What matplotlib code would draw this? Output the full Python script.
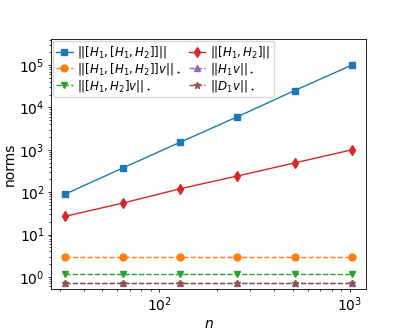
import numpy as np
import matplotlib
matplotlib.use('Agg')
import matplotlib.pyplot as plt

n = [32, 64, 128, 256, 512, 1024]
comm_comm = [90, 370, 1500, 6000, 25000, 100000]
comm = [27, 55, 120, 240, 490, 1000]
comm_comm_v = [3.0, 3.0, 3.0, 3.0, 3.0, 3.0]
comm_v = [1.15, 1.15, 1.15, 1.15, 1.15, 1.15]
h1_v = [0.7, 0.7, 0.7, 0.7, 0.7, 0.7]
d1_v = [0.7, 0.7, 0.7, 0.7, 0.7, 0.7]

fig = plt.figure(figsize=(4.07, 3.31), dpi=100)
ax = fig.add_axes([0.125, 0.127, 0.775, 0.755])

kw = dict(lw=1.0, ms=5)
ax.loglog(n, comm_comm, 's-', color='C0', label=r'$||[H_1,[H_1,H_2]]||$', **kw)
ax.loglog(n, comm_comm_v, 'o--', color='C1', label=r'$||[H_1,[H_1,H_2]]v||_\star$', **kw)
ax.loglog(n, comm_v, 'v--', color='C2', label=r'$||[H_1,H_2]v||_\star$', **kw)
ax.loglog(n, comm, 'd-', color='C3', label=r'$||[H_1,H_2]||$', **kw)
ax.loglog(n, h1_v, '^--', color='C4', label=r'$||H_1v||_\star$', **kw)
ax.loglog(n, d1_v, '*--', color='C5', label=r'$||D_1v||_\star$', **kw)

ax.set_ylim(0.52, 4.1e5)
ax.set_xlabel('$n$', fontsize=10, labelpad=2)
ax.set_ylabel('norms', fontsize=10, labelpad=2)
ax.tick_params(labelsize=10, width=0.6, length=2.5, pad=2)
ax.tick_params(which='minor', width=0.5, length=1.4)
for s in ax.spines.values():
    s.set_linewidth(0.6)
ax.legend(ncol=2, loc='upper left', fontsize=8.5, handlelength=1.4,
          handletextpad=0.4, columnspacing=0.6, labelspacing=0.05,
          borderaxespad=0.15, borderpad=0.3)

fig.savefig('out.png', dpi=100)
